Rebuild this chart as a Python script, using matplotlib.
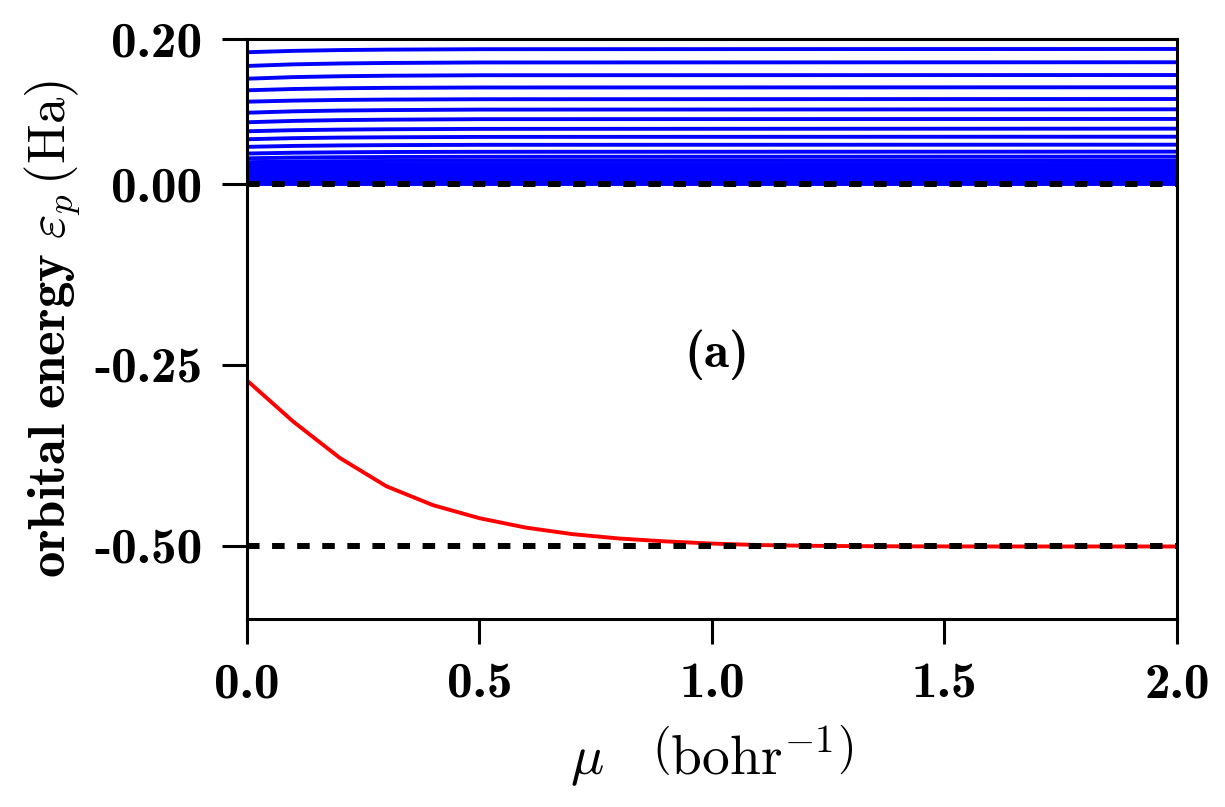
import numpy as np
import matplotlib
matplotlib.use("Agg")
import matplotlib.pyplot as plt

plt.rcParams['mathtext.fontset'] = 'cm'

# red curve (bound level)
mu_red = [0.0, 0.1, 0.2, 0.3, 0.4, 0.5, 0.6, 0.7, 0.8, 0.9, 1.0,
          1.1, 1.2, 1.3, 1.4, 1.5, 1.6, 1.7, 1.8, 1.9, 2.0]
e_red = [-0.271, -0.328, -0.378, -0.417, -0.443, -0.461, -0.474, -0.483,
         -0.489, -0.493, -0.496, -0.498, -0.499, -0.4995, -0.4998, -0.4999,
         -0.5, -0.5, -0.5, -0.5, -0.5]

# blue curves (continuum levels), columns are mu_blue
mu_blue = [0.0, 0.1, 0.2, 0.3, 0.5, 2.0]
e_blue = [
    [0.1817, 0.1836, 0.1847, 0.1853, 0.1859, 0.1862],
    [0.1628, 0.1650, 0.1662, 0.1669, 0.1676, 0.1679],
    [0.1452, 0.1474, 0.1486, 0.1493, 0.1500, 0.1503],
    [0.1292, 0.1310, 0.1320, 0.1326, 0.1331, 0.1334],
    [0.1135, 0.1150, 0.1159, 0.1164, 0.1169, 0.1172],
    [0.0983, 0.1002, 0.1013, 0.1019, 0.1026, 0.1030],
    [0.0851, 0.0870, 0.0881, 0.0887, 0.0894, 0.0897],
    [0.0727, 0.0742, 0.0750, 0.0755, 0.0760, 0.0763],
    [0.0617, 0.0632, 0.0640, 0.0644, 0.0649, 0.0652],
    [0.0512, 0.0525, 0.0532, 0.0536, 0.0540, 0.0542],
    [0.0420, 0.0431, 0.0437, 0.0441, 0.0444, 0.0446],
    [0.0354, 0.0364, 0.0369, 0.0372, 0.0375, 0.0377],
    [0.0301, 0.0310, 0.0314, 0.0317, 0.0319, 0.0321],
    [0.0258, 0.0266, 0.0270, 0.0272, 0.0274, 0.0276],
    [0.0224, 0.0230, 0.0234, 0.0236, 0.0238, 0.0239],
    [0.0190, 0.0195, 0.0198, 0.0200, 0.0202, 0.0203],
    [0.0160, 0.0164, 0.0166, 0.0168, 0.0169, 0.0170],
    [0.0132, 0.0135, 0.0137, 0.0138, 0.0139, 0.0140],
    [0.0105, 0.0107, 0.0109, 0.0110, 0.0110, 0.0111],
    [0.0082, 0.0084, 0.0085, 0.0086, 0.0086, 0.0087],
    [0.0062, 0.0063, 0.0064, 0.0065, 0.0065, 0.0066],
    [0.0045, 0.0046, 0.0047, 0.0047, 0.0047, 0.0048],
    [0.0030, 0.0031, 0.0031, 0.0032, 0.0032, 0.0032],
    [0.0018, 0.0019, 0.0019, 0.0019, 0.0019, 0.0019],
    [0.0009, 0.0009, 0.0009, 0.0009, 0.0009, 0.0009],
    [0.0002, 0.0002, 0.0002, 0.0002, 0.0002, 0.0002],
]

ref_levels = [0.0, -0.5]

xticks = [0.0, 0.5, 1.0, 1.5, 2.0]
xticklabels = ['0.0', '0.5', '1.0', '1.5', '2.0']
yticks = [0.2, 0.0, -0.25, -0.5]
yticklabels = ['0.20', '0.00', '-0.25', '-0.50']

fig = plt.figure(figsize=(12.25, 8.07), dpi=100)
ax = fig.add_axes([0.2016, 0.2330, 0.7592, 0.7187])

for row in e_blue:
    ax.plot(mu_blue, row, color='blue', lw=2.8)
ax.plot(mu_red, e_red, color='red', lw=2.8)
for lev in ref_levels:
    ax.axhline(lev, color='black', lw=4.3, linestyle=(0, (2.1, 2.1)))

ax.set_xlim(0, 2)
ax.set_ylim(-0.6, 0.2)

tickfont = dict(family='cmb10', size=37)
ax.set_xticks(xticks)
ax.set_xticklabels(xticklabels, fontdict=tickfont)
ax.set_yticks(yticks)
ax.set_yticklabels(yticklabels, fontdict=tickfont)
ax.tick_params(direction='out', length=18, width=2.2, top=False, right=False)
ax.tick_params(axis='x', pad=13)
ax.tick_params(axis='y', pad=14)
for sp in ax.spines.values():
    sp.set_linewidth(2.2)

ax.set_xlabel(r'$\mu\ \ \ \left(\mathrm{bohr}^{-1}\right)$', fontsize=40, labelpad=12)
ax.set_ylabel(r'$\mathbf{orbital\ energy}\ \varepsilon_p\,(\mathrm{Ha})$', fontsize=38, labelpad=8)

ax.text(1.01, -0.236, '(a)', family='cmb10', fontsize=37, ha='center', va='center')

fig.savefig('out.png', dpi=100)
